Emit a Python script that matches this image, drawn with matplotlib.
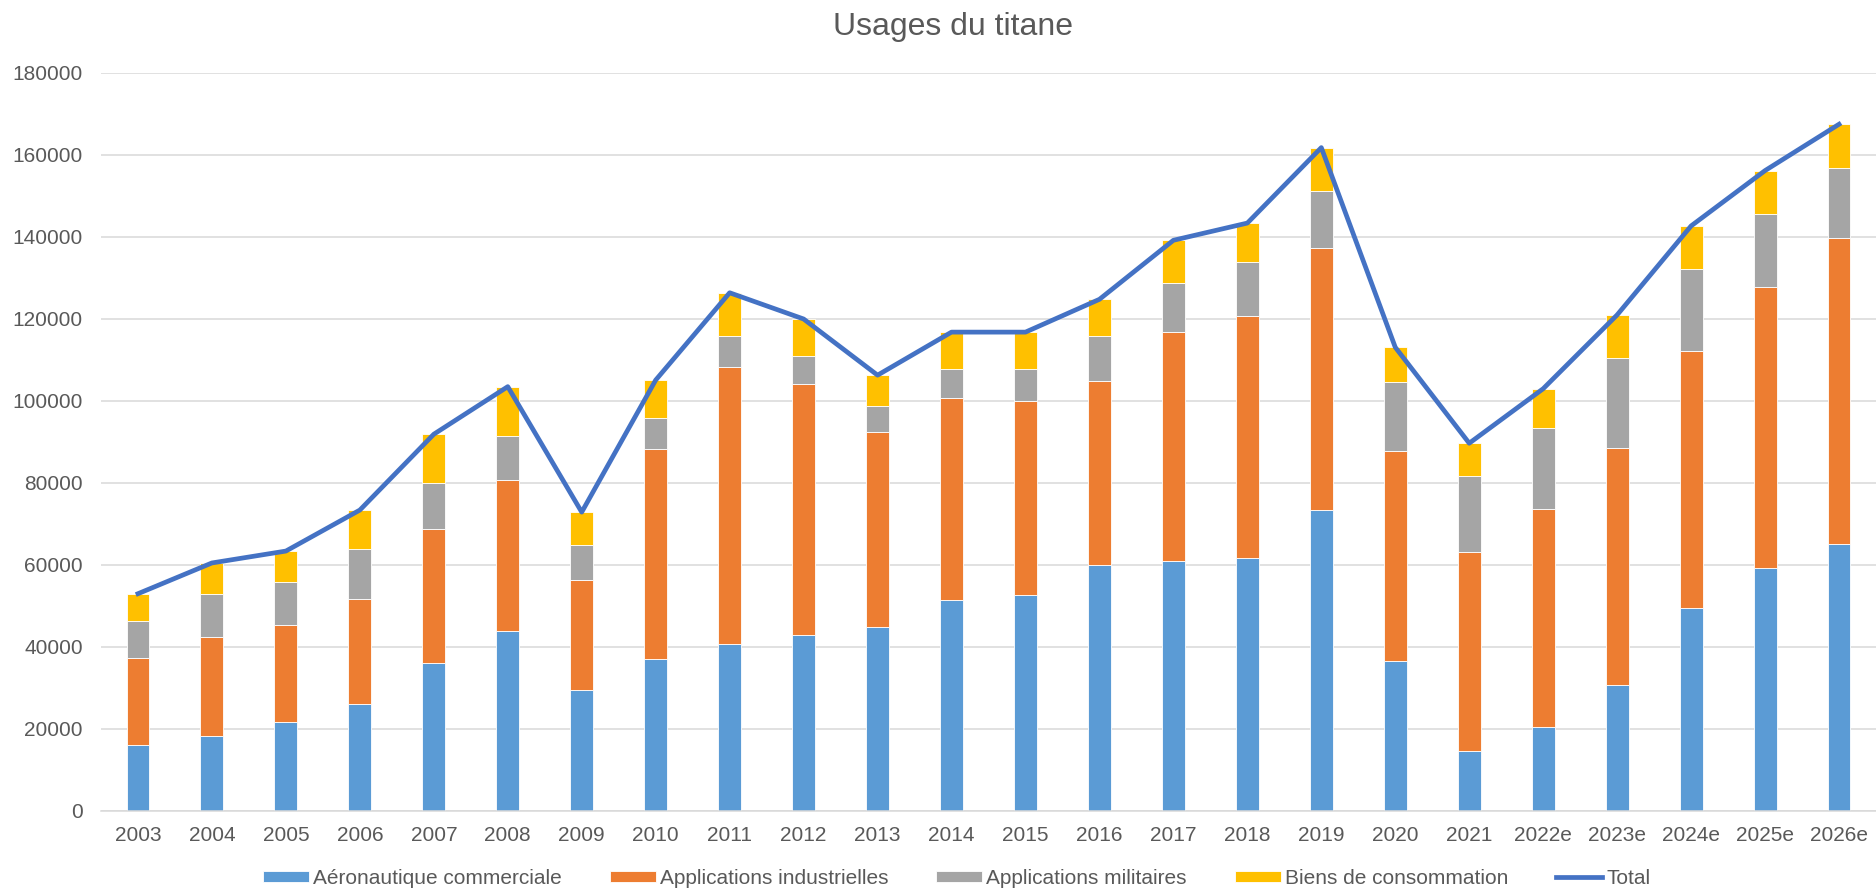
import matplotlib.pyplot as plt
import numpy as np

plt.rcParams['font.family'] = ['Liberation Sans', 'DejaVu Sans']

annees = ['2003', '2004', '2005', '2006', '2007', '2008', '2009', '2010', '2011', '2012',
          '2013', '2014', '2015', '2016', '2017', '2018', '2019', '2020', '2021',
          '2022e', '2023e', '2024e', '2025e', '2026e']

aero = [16000, 18400, 21800, 26000, 36000, 43900, 29400, 37000, 40800, 43000,
        44900, 51400, 52600, 60000, 60900, 61800, 73500, 36700, 14600,
        20400, 30800, 49400, 59200, 65200]
industrie = [21300, 24100, 23600, 25800, 32800, 36900, 27000, 51400, 67500, 61200,
             47600, 49400, 47300, 44800, 55900, 59000, 63900, 51100, 48600,
             53200, 57800, 62800, 68500, 74600]
militaire = [9100, 10500, 10500, 12100, 11200, 10600, 8600, 7500, 7600, 6700,
             6300, 7000, 7900, 11100, 12000, 13000, 13900, 16800, 18500,
             19900, 21900, 19900, 17900, 17100]
conso = [6600, 7400, 7500, 9500, 11900, 12100, 7900, 9200, 10500, 9100,
         7500, 9000, 9000, 8900, 10400, 9600, 10500, 8500, 8000,
         9500, 10500, 10600, 10600, 10600]
total = [53000, 60500, 63400, 73400, 91900, 103500, 72900, 105100, 126400, 120000,
         106300, 116800, 116800, 124800, 139200, 143400, 161800, 113100, 89700,
         103000, 121000, 142700, 156200, 167500]

gris_txt = '#595959'

fig = plt.figure(figsize=(18.76, 8.9), dpi=100)
ax = fig.add_axes([101/1876, 79/890, 1 - 101/1876, 738/890])

x = np.arange(len(annees))
w = 0.31
bas = np.zeros(len(annees))
series = [(aero, 'Aéronautique commerciale', '#5B9BD5'),
          (industrie, 'Applications industrielles', '#ED7D31'),
          (militaire, 'Applications militaires', '#A5A5A5'),
          (conso, 'Biens de consommation', '#FFC000')]
handles = []
for vals, nom, coul in series:
    b = ax.bar(x, vals, w, bottom=bas, color=coul, label=nom, edgecolor='white', linewidth=0.6, zorder=2)
    handles.append(b)
    bas += np.array(vals)

ligne, = ax.plot(x, total, color='#4472C4', linewidth=3.4, label='Total', zorder=3)
handles.append(ligne)

ax.set_xlim(-0.5, len(annees) - 0.5)
ax.set_ylim(0, 180000)
ax.set_yticks(range(0, 180001, 20000))
ax.set_xticks(x)
ax.set_xticklabels(annees)
ax.grid(axis='y', color='#D9D9D9', linewidth=1.1, zorder=0)
for s in ['top', 'right', 'left']:
    ax.spines[s].set_visible(False)
ax.spines['bottom'].set_color('#D9D9D9')
ax.spines['bottom'].set_linewidth(1.1)
ax.tick_params(axis='both', length=0, labelsize=15, colors=gris_txt)
ax.tick_params(axis='y', pad=13)
ax.tick_params(axis='x', pad=11)

fig.text(0.508, 0.970, 'Usages du titane', ha='center', va='center', fontsize=23, color=gris_txt)

fig.legend(handles=handles, labels=[h.get_label() for h in handles],
           loc='center', bbox_to_anchor=(0.51, 0.013), ncol=5, frameon=False,
           fontsize=15, handlelength=2.2, handleheight=0.5, handletextpad=0.2,
           columnspacing=2.3, labelcolor=gris_txt)

fig.savefig('out.png', dpi=100)
